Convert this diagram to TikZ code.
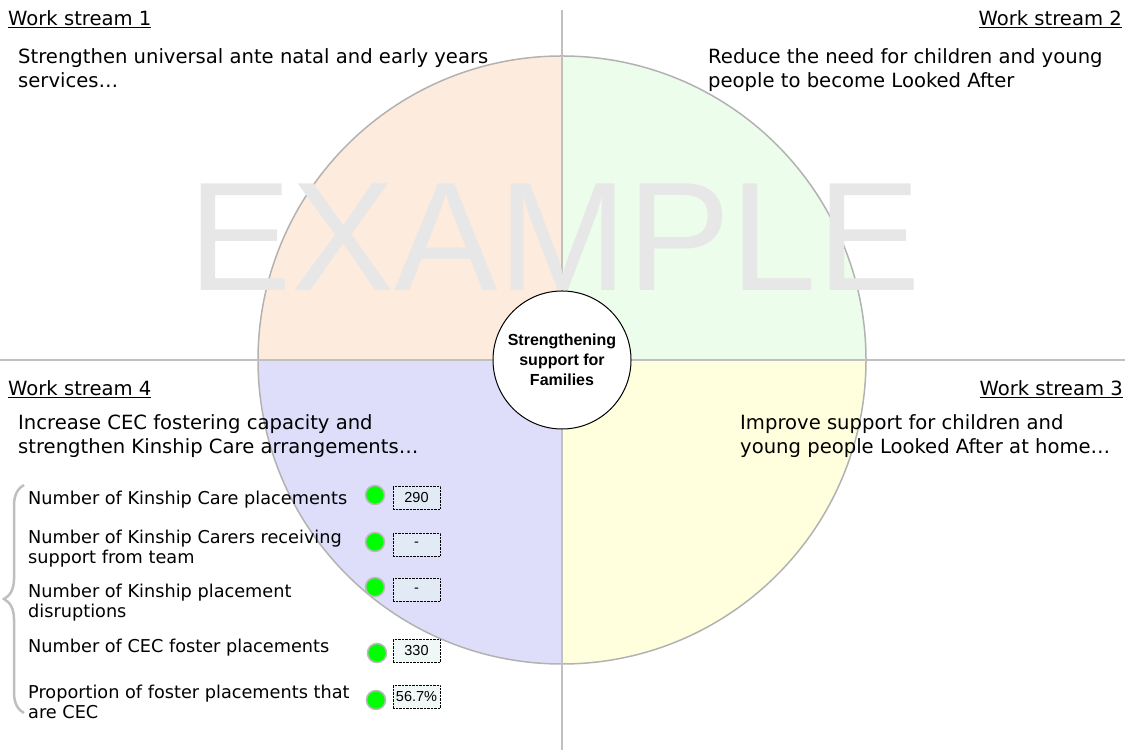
\documentclass[tikz,border=0pt]{standalone}
\usepackage{fontspec}
\setmainfont{DejaVu Sans}
\newfontfamily\arialfont{Liberation Sans}
\usetikzlibrary{positioning,decorations.pathreplacing}

\definecolor{peach}{RGB}{253,236,222}
\definecolor{mint}{RGB}{236,253,236}
\definecolor{cream}{RGB}{255,255,222}
\definecolor{lavender}{RGB}{222,222,251}
\definecolor{rimgray}{RGB}{178,178,178}
\definecolor{axisgray}{RGB}{192,192,192}
\definecolor{markgray}{RGB}{231,231,231}
\definecolor{ragreen}{RGB}{0,255,0}
\definecolor{valfill}{RGB}{230,244,242}

\begin{document}
\begin{tikzpicture}[
		x=1pt, y=1pt,
		every node/.style={inner sep=0pt},
		head/.style={font=\fontsize{19.6}{24}\selectfont},
		stmt/.style={anchor=north west, align=left, font=\fontsize{19.6}{24}\selectfont},
		kpi/.style={anchor=north west, align=left, font=\fontsize{17.7}{20.5}\selectfont},
		hub/.style={circle, draw, line width=1pt, fill=white, minimum size=138pt, align=center, font=\arialfont\bfseries\fontsize{16}{20}\selectfont},
		ragdot/.style={circle, draw=gray!55, line width=1.5pt, fill=ragreen, minimum size=19pt},
		valbox/.style={draw, densely dotted, fill=valfill, fill opacity=0.6, text opacity=1, minimum width=47pt, minimum height=23pt, font=\arialfont\fontsize{14.5}{16}\selectfont},
		axisline/.style={draw=axisgray, line width=2pt},
		rim/.style={draw=rimgray, line width=1.5pt}
		]
		
		\useasboundingbox (0,0) rectangle (1131,751);
		\coordinate (ctr) at (562,391);
		
		% four quarters of the wheel
		\fill[peach] (ctr) -- ++(180:304) arc[start angle=180, end angle=90, radius=304] -- cycle;
		\fill[mint] (ctr) -- ++(90:304) arc[start angle=90, end angle=0, radius=304] -- cycle;
		\fill[cream] (ctr) -- ++(0:304) arc[start angle=360, end angle=270, radius=304] -- cycle;
		\fill[lavender] (ctr) -- ++(270:304) arc[start angle=270, end angle=180, radius=304] -- cycle;
		\draw[rim] (ctr) circle[radius=304];
		
		\coordinate (west) at (0,391);
		\coordinate (east) at (1125,391);
		\coordinate (north) at (562,741);
		\coordinate (south) at (562,1);
		\draw[axisline] (west) -- (east);
		\draw[axisline] (north) -- (south);
		
		\node[anchor=base west, text=markgray, font=\arialfont\fontsize{155}{160}\selectfont] (mark) at (188,460) {EXAMPLE};
		
		\node[hub] (hub) at (ctr) {Strengthening\\support for\\Families};
		
		\node[head, anchor=base west] (ws1) at (8,725) {\underline{Work stream 1}};
		\node[stmt] (aim1) at (18,703) {Strengthen universal ante natal and early years\\services\dots};
		\node[head, anchor=base east] (ws2) at (1122,725) {\underline{Work stream 2}};
		\node[stmt] (aim2) at (708,703) {Reduce the need for children and young\\people to become Looked After};
		\node[head, anchor=base west] (ws4) at (8,355) {\underline{Work stream 4}};
		\node[stmt] (aim4) at (18,337) {Increase CEC fostering capacity and\\strengthen Kinship Care arrangements\dots};
		\node[head, anchor=base east] (ws3) at (1123,355) {\underline{Work stream 3}};
		\node[stmt] (aim3) at (740,337) {Improve support for children and\\young people Looked After at home\dots};
		
		\node[kpi] (kin) at (28,260.5) {Number of Kinship Care placements};
		\node[kpi] (carers) at (28,221.5) {Number of Kinship Carers receiving\\support from team};
		\node[kpi] (disrupt) at (28,167.5) {Number of Kinship placement\\disruptions};
		\node[kpi] (cec) at (28,112.5) {Number of CEC foster placements};
		\node[kpi] (share) at (28,66.5) {Proportion of foster placements that\\are CEC};
		
		\node[ragdot] (kindot) at (375,256) {};
		\node[ragdot] (carersdot) at (375,209) {};
		\node[ragdot] (disruptdot) at (375,164) {};
		\node[ragdot] (cecdot) at (377,98) {};
		\node[ragdot] (sharedot) at (376,51) {};
		
		\node[valbox] (kinval) at (416.5,253.5) {290};
		\node[valbox] (carersval) at (416.5,206.5) {-};
		\node[valbox] (disruptval) at (416.5,161) {-};
		\node[valbox] (cecval) at (416.5,100) {330};
		\node[valbox] (shareval) at (416.5,54) {56.7\%};
		
		\draw[draw=gray!50, line width=2.5pt, decorate, decoration={brace, amplitude=20pt}] (24,38) -- (24,266);
		
	\end{tikzpicture}
\end{document}
